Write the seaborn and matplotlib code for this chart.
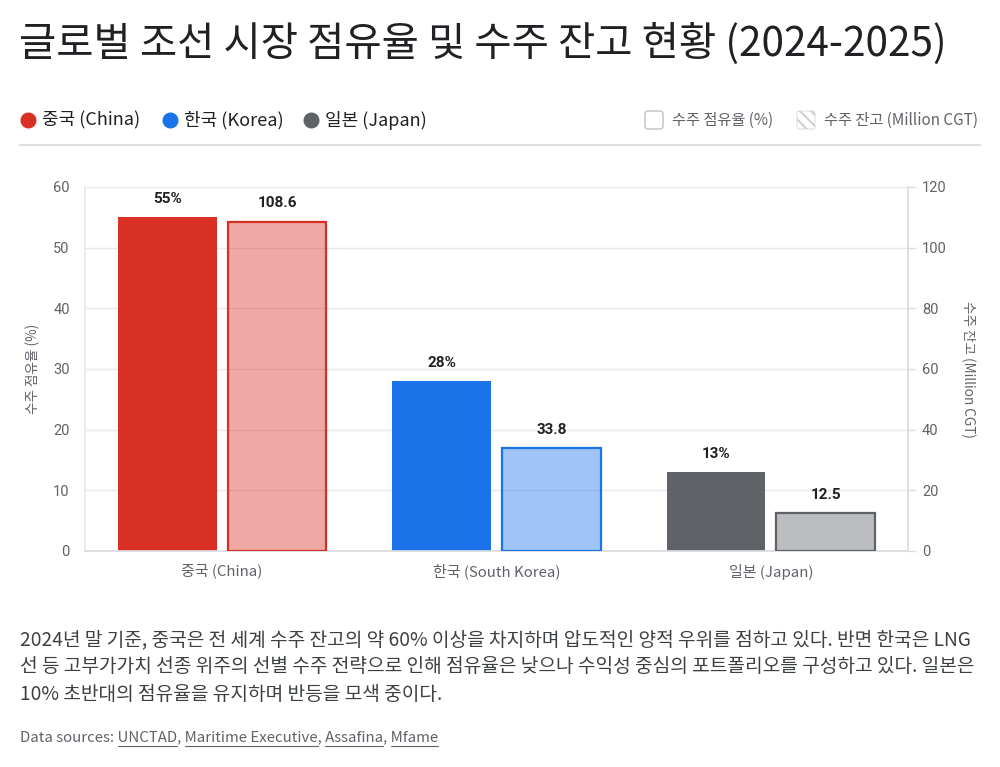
import matplotlib
matplotlib.use("Agg")
import matplotlib.pyplot as plt
import seaborn as sns
import pandas as pd
from matplotlib.patches import FancyBboxPatch
from matplotlib.lines import Line2D
from matplotlib.colors import to_rgb

# ---------------- data ----------------
countries = ["중국 (China)", "한국 (South Korea)", "일본 (Japan)"]
legend_countries = ["중국 (China)", "한국 (Korea)", "일본 (Japan)"]
share_pct = [55, 28, 13]
backlog_mcgt = [108.6, 33.8, 12.5]
metric_names = ["수주 점유율 (%)", "수주 잔고 (Million CGT)"]
left_ticks = [0, 10, 20, 30, 40, 50, 60]
right_ticks = [0, 20, 40, 60, 80, 100, 120]
country_colors = ["#D93025", "#1A73E8", "#5F6368"]

title = "글로벌 조선 시장 점유율 및 수주 잔고 현황 (2024-2025)"
paragraph_lines = [
    "2024년 말 기준, 중국은 전 세계 수주 잔고의 약 60% 이상을 차지하며 압도적인 양적 우위를 점하고 있다. 반면 한국은 LNG",
    "선 등 고부가가치 선종 위주의 선별 수주 전략으로 인해 점유율은 낮으나 수익성 중심의 포트폴리오를 구성하고 있다. 일본은",
    "10% 초반대의 점유율을 유지하며 반등을 모색 중이다.",
]
source_prefix = "Data sources: "
source_links = ["UNCTAD", "Maritime Executive", "Assafina", "Mfame"]

# ---------------- style ----------------
sns.set_theme(style="white")
KR = ["Noto Sans CJK KR", "DejaVu Sans"]
NUM = ["Roboto", "DejaVu Sans"]
plt.rcParams["font.family"] = KR

W, H = 1000, 767
fig = plt.figure(figsize=(W / 100, H / 100), dpi=100)
fig.patch.set_facecolor("white")


def fx(px):
    return px / W


def fy(py):
    return 1 - py / H


ax = fig.add_axes([fx(85), fy(551), (908 - 85) / W, (551 - 187) / H])
ax2 = ax.twinx()

df_share = pd.DataFrame({"country": countries, "value": share_pct, "metric": metric_names[0]})
df_back = pd.DataFrame({"country": countries, "value": backlog_mcgt, "metric": metric_names[1]})

common = dict(x="country", y="value", hue="metric", hue_order=metric_names, order=countries,
              dodge=True, width=0.8, gap=0.1, palette=["#888888", "#888888"],
              saturation=1, legend=False, errorbar=None)
sns.barplot(data=df_share, ax=ax, **common)
sns.barplot(data=df_back, ax=ax2, **common)

# recolor bars by country
for p in ax.patches:
    i = int(round(p.get_x() + p.get_width() / 2))
    p.set_facecolor(country_colors[i])
    p.set_edgecolor(country_colors[i])
    p.set_linewidth(0)
for p in ax2.patches:
    i = int(round(p.get_x() + p.get_width() / 2))
    r, g, b = to_rgb(country_colors[i])
    p.set_facecolor((r, g, b, 0.42))
    p.set_edgecolor(country_colors[i])
    p.set_linewidth(1.6)

ax.set_ylim(0, 60)
ax2.set_ylim(0, 120)
ax.set_xlim(-0.5, 2.5)
ax.set_yticks(left_ticks)
ax2.set_yticks(right_ticks)
ax.set_xlabel("")
ax.set_ylabel("")
ax2.set_ylabel("")
ax2.set_xlabel("")

ax.set_axisbelow(True)
ax.yaxis.grid(True, color="#E8EAED", linewidth=1)
ax.xaxis.grid(False)
ax2.grid(False)

for s in ["top", "right"]:
    ax.spines[s].set_visible(False)
ax.spines["left"].set_color("#E8EAED")
ax.spines["bottom"].set_color("#DADCE0")
for s in ["top", "left", "bottom"]:
    ax2.spines[s].set_visible(False)
ax2.spines["right"].set_color("#DADCE0")

ax.tick_params(axis="y", left=False, length=0, pad=11, labelcolor="#5F6368", labelsize=10.5)
ax.tick_params(axis="x", bottom=False, length=0, pad=9, labelcolor="#5F6368", labelsize=10.8)
ax2.tick_params(axis="y", right=True, length=6, width=1, color="#DADCE0", pad=4,
                labelcolor="#5F6368", labelsize=10.5)
for lbl in ax.get_yticklabels() + ax2.get_yticklabels():
    lbl.set_fontfamily(NUM)

# value labels
for c in ax.containers:
    if len(c):
        ax.bar_label(c, fmt="{:.0f}%", padding=8, fontsize=11, fontweight="bold",
                     color="#202124", family=NUM)
for c in ax2.containers:
    if len(c):
        ax2.bar_label(c, fmt="{:.1f}", padding=8, fontsize=11, fontweight="bold",
                      color="#202124", family=NUM)

# axis titles
ax.text((33 - 85) / (908 - 85), 0.5, metric_names[0], transform=ax.transAxes, rotation=90,
        ha="center", va="center", fontsize=9.8, color="#5F6368")
ax2.text((968 - 85) / (908 - 85), 0.5, metric_names[1], transform=ax2.transAxes, rotation=-90,
         ha="center", va="center", fontsize=9.8, color="#5F6368")

# ---------------- title ----------------
fig.text(fx(19), fy(44), title, ha="left", va="center", fontsize=29.2, color="#202124")

# ---------------- legend row ----------------
leg_y = 120
for x_dot, col, lab in zip([28, 170, 311], country_colors, legend_countries):
    fig.add_artist(Line2D([fx(x_dot)], [fy(leg_y)], marker="o", markersize=10.5, color=col,
                          linestyle="none", transform=fig.transFigure))
    fig.text(fx(x_dot + 14), fy(leg_y), lab, ha="left", va="center", fontsize=13, color="#202124")

inch = fig.dpi_scale_trans
box1 = FancyBboxPatch((645 / 100, (H - 129) / 100), 0.18, 0.18,
                      boxstyle="round,pad=0,rounding_size=0.03", facecolor="white",
                      edgecolor="#BDC1C6", linewidth=1, transform=inch)
fig.add_artist(box1)
fig.text(fx(672), fy(leg_y), metric_names[0], ha="left", va="center", fontsize=11, color="#5F6368")
plt.rcParams["hatch.linewidth"] = 1.5
box2 = FancyBboxPatch((797 / 100, (H - 129) / 100), 0.18, 0.18,
                      boxstyle="round,pad=0,rounding_size=0.02", facecolor="white",
                      edgecolor="#CDD0D3", hatch="\\\\\\", linewidth=0.5, transform=inch)
fig.add_artist(box2)
fig.text(fx(824), fy(leg_y), metric_names[1], ha="left", va="center", fontsize=11, color="#5F6368")

fig.add_artist(Line2D([fx(20), fx(980)], [fy(145), fy(145)], color="#DADCE0", linewidth=1.5,
                      transform=fig.transFigure))

# ---------------- paragraph ----------------
for py, line in zip([640, 667, 695], paragraph_lines):
    fig.text(fx(20), fy(py), line, ha="left", va="center", fontsize=13.8, color="#3C4043")

# ---------------- sources ----------------
src_y = 737
src_size = 10.8
full = source_prefix + ", ".join(source_links)
fig.text(fx(20), fy(src_y), full, ha="left", va="center", fontsize=src_size, color="#5F6368")
fig.canvas.draw()
renderer = fig.canvas.get_renderer()


def text_width(s):
    t = fig.text(0, 0, s, fontsize=src_size)
    w = t.get_window_extent(renderer).width
    t.remove()
    return w


prefix = source_prefix
for link in source_links:
    end = text_width(prefix + link)
    start = end - text_width(link)
    fig.add_artist(Line2D([fx(20 + start), fx(20 + end)], [fy(src_y + 9), fy(src_y + 9)],
                          color="#5F6368", linewidth=0.8, transform=fig.transFigure))
    prefix = prefix + link + ", "

fig.savefig("out.png", dpi=100, facecolor="white")
